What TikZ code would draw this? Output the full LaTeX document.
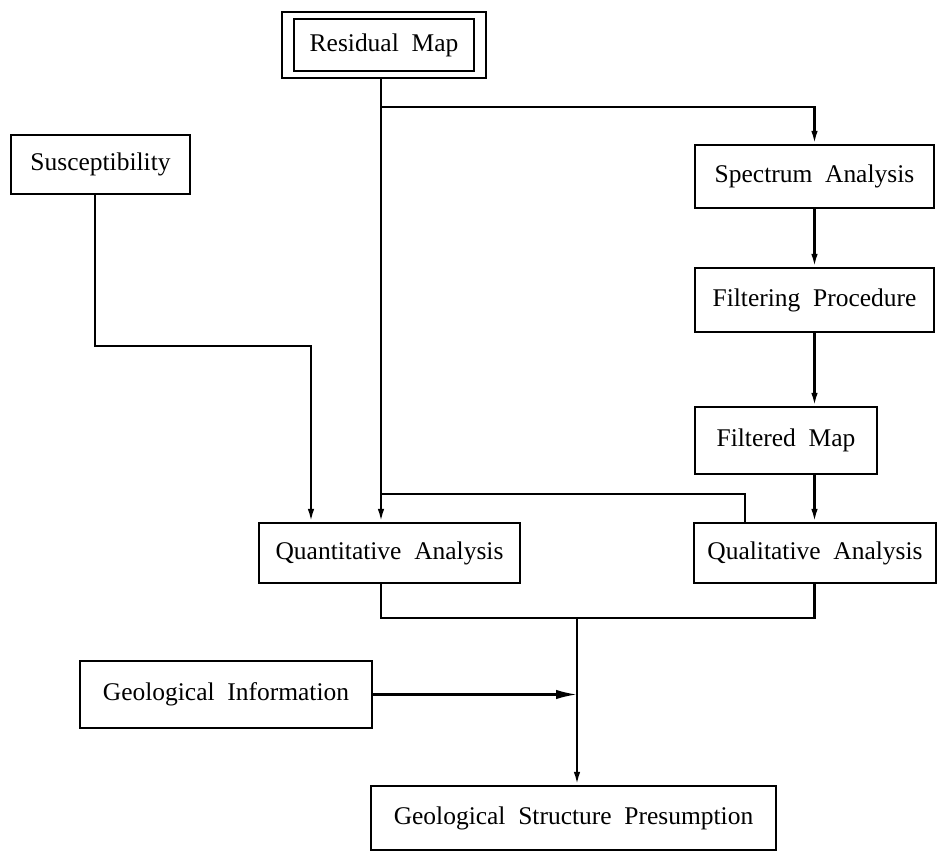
\documentclass[tikz,border=0pt]{standalone}
\usepackage{fontspec}
\setmainfont[WordSpace=2]{Liberation Serif}
\usetikzlibrary{arrows.meta}

\begin{document}
\begin{tikzpicture}[x=0.02cm,y=-0.02cm,line width=1.3pt,
  box/.style={draw,rectangle,inner sep=0pt,font=\fontsize{14.5}{16}\selectfont},
  arr/.style={-{Latex[length=2.6mm,width=1.3mm]}},
  bigarr/.style={-{Latex[length=4.2mm,width=1.9mm]}}]
\useasboundingbox (0,0) rectangle (938,851);
%boxes
\node[box,minimum width=3.6cm,minimum height=1.04cm] (res) at (384,45) {Residual Map};
\node[box,minimum width=4.08cm,minimum height=1.32cm] (resout) at (384,45) {};
\node[box,minimum width=3.58cm,minimum height=1.18cm] (sus) at (100.5,164.5) {Susceptibility};
\node[box,minimum width=4.78cm,minimum height=1.26cm] (spec) at (814.5,176.5) {Spectrum Analysis};
\node[box,minimum width=4.78cm,minimum height=1.28cm] (filt) at (814.5,300) {Filtering Procedure};
\node[box,minimum width=3.64cm,minimum height=1.34cm] (fmap) at (786,440.5) {Filtered Map};
\node[box,minimum width=5.22cm,minimum height=1.2cm] (quant) at (389.5,553) {Quantitative Analysis};
\node[box,minimum width=4.84cm,minimum height=1.2cm] (qual) at (815,553) {Qualitative Analysis};
\node[box,minimum width=5.84cm,minimum height=1.34cm] (geo) at (226,694.5) {Geological Information};
\node[box,minimum width=8.1cm,minimum height=1.28cm] (gsp) at (573.5,818) {Geological Structure Presumption};
%junctions
\coordinate (j1) at (381,107);
\coordinate (ks) at (311,346);
\coordinate (j2) at (381,494);
\coordinate (k2) at (745,494);
\coordinate (m) at (577,618);
% residual map
\draw (resout.south -| j1) -- (j1);
\draw[arr] (j1) -| (spec.north);
\draw[arr] (j1) -- (j1 |- quant.north);
\draw (j2) -- (k2) -- (k2 |- qual.north);
% susceptibility
\draw[arr] (sus.south -| 95,0) |- (ks) -- (ks |- quant.north);
% right column
\draw[arr] (spec.south) -- (filt.north);
\draw[arr] (filt.south) -- (filt.south |- fmap.north);
\draw[arr] (fmap.south -| spec) -- (qual.north -| spec);
% to presumption
\draw (quant.south -| j1) |- (m) -| (qual.south -| spec);
\draw[arr] (m) -- (m |- gsp.north);
\draw[bigarr] (geo.east) -- (geo.east -| m);
\end{tikzpicture}
\end{document}
